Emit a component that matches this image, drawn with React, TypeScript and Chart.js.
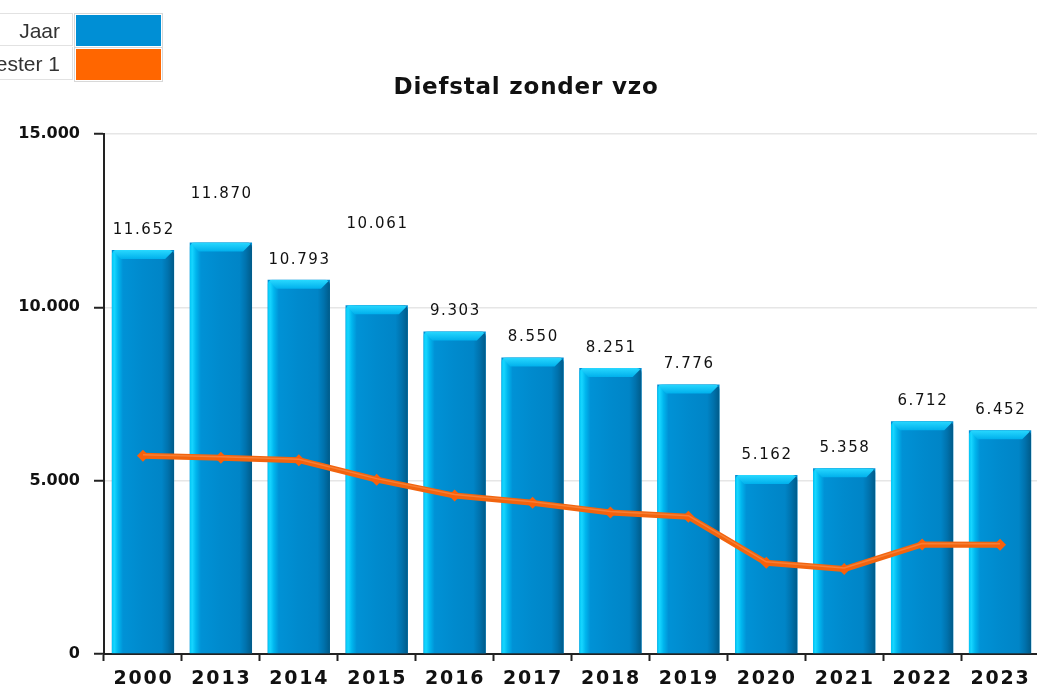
import React, { useEffect, useRef } from "react";
import { Chart, registerables } from "chart.js";

Chart.register(...registerables);

const categories = ["2000", "2013", "2014", "2015", "2016", "2017", "2018", "2019", "2020", "2021", "2022", "2023"];
const jaarValues = [11652, 11870, 10793, 10061, 9303, 8550, 8251, 7776, 5162, 5358, 6712, 6452];
const semesterValues = [5720, 5660, 5590, 5030, 4570, 4360, 4080, 3960, 2630, 2450, 3160, 3150];
const yTickValues = [0, 5000, 10000, 15000];
const seriesNames = ["Jaar", "Semester 1"];
const chartTitle = "Diefstal zonder vzo";

const BLUE = "#008fd5";
const ORANGE = "#ff6600";

const fmt = (v: number) => String(Math.round(v)).replace(/\B(?=(\d{3})+(?!\d))/g, ".");

const barStylePlugin = {
  id: "barStyle",
  afterDatasetDraw(chart: any, args: any) {
    if (args.index !== 0) return;
    const meta = chart.getDatasetMeta(0);
    const ctx = chart.ctx as CanvasRenderingContext2D;
    meta.data.forEach((bar: any) => {
      const { x, y, base, width } = bar.getProps(["x", "y", "base", "width"], true);
      const l = x - width / 2;
      const r = x + width / 2;
      const t = y;
      const b = base;
      ctx.save();
      ctx.beginPath();
      (ctx as any).roundRect(l, t, r - l, b - t, [5, 5, 0, 0]);
      ctx.clip();
      const g = ctx.createLinearGradient(l, 0, r, 0);
      g.addColorStop(0, "#00c4f4");
      g.addColorStop(0.04, "#16d6ff");
      g.addColorStop(0.1, "#00b6ee");
      g.addColorStop(0.18, "#0092d6");
      g.addColorStop(0.5, "#008acd");
      g.addColorStop(0.8, "#0085c7");
      g.addColorStop(0.9, "#0072ad");
      g.addColorStop(1, "#005a88");
      ctx.fillStyle = g;
      ctx.fillRect(l, t, r - l, b - t);
      const d = 9;
      const gt = ctx.createLinearGradient(0, t, 0, t + d);
      gt.addColorStop(0, "#28d8ff");
      gt.addColorStop(1, "#00b0ec");
      ctx.beginPath();
      ctx.moveTo(l, t);
      ctx.lineTo(r, t);
      ctx.lineTo(r - d, t + d);
      ctx.lineTo(l + d, t + d);
      ctx.closePath();
      ctx.fillStyle = gt;
      ctx.fill();
      ctx.restore();
    });
  },
};

const lineHighlightPlugin = {
  id: "lineHighlight",
  afterDatasetDraw(chart: any, args: any) {
    if (args.index !== 1) return;
    const meta = chart.getDatasetMeta(1);
    const ctx = chart.ctx as CanvasRenderingContext2D;
    ctx.save();
    ctx.beginPath();
    meta.data.forEach((p: any, i: number) => {
      if (i === 0) ctx.moveTo(p.x, p.y - 1);
      else ctx.lineTo(p.x, p.y - 1);
    });
    ctx.strokeStyle = "rgba(255,160,100,0.45)";
    ctx.lineWidth = 1.5;
    ctx.lineJoin = "round";
    ctx.stroke();
    ctx.restore();
  },
};

const labelsPlugin = {
  id: "valueLabels",
  afterDatasetsDraw(chart: any) {
    const ctx = chart.ctx as CanvasRenderingContext2D;
    const meta = chart.getDatasetMeta(0);
    ctx.save();
    ctx.font = "15px 'DejaVu Sans'";
    (ctx as any).letterSpacing = "1.6px";
    ctx.fillStyle = "#111";
    ctx.textAlign = "center";
    ctx.textBaseline = "middle";
    const placed: { x: number; y: number; w: number }[] = [];
    const h = 36;
    meta.data.forEach((bar: any, i: number) => {
      const text = fmt(jaarValues[i]);
      const w = ctx.measureText(text).width + 18;
      let y = bar.y - 20;
      let moved = true;
      while (moved) {
        moved = false;
        for (const p of placed) {
          if (Math.abs(p.x - bar.x) < (p.w + w) / 2 && Math.abs(p.y - y) < h) {
            y = p.y - h;
            moved = true;
          }
        }
      }
      placed.push({ x: bar.x, y, w });
      ctx.fillText(text, bar.x + 0.8, y);
    });
    ctx.restore();

    // x-axis category labels
    const xs = chart.scales.x;
    ctx.save();
    ctx.font = "bold 19px 'DejaVu Sans'";
    (ctx as any).letterSpacing = "1.8px";
    ctx.fillStyle = "#111";
    ctx.textAlign = "center";
    ctx.textBaseline = "middle";
    categories.forEach((c, i) => {
      ctx.fillText(c, xs.getPixelForValue(i) + 0.5, chart.chartArea.bottom + 25);
    });
    ctx.restore();

    // title
    const tb = chart.titleBlock;
    ctx.save();
    ctx.font = "bold 23px 'DejaVu Sans'";
    (ctx as any).letterSpacing = "0.8px";
    ctx.fillStyle = "#111";
    ctx.textAlign = "center";
    ctx.textBaseline = "middle";
    ctx.fillText(chartTitle, 526, 88);
    ctx.restore();
  },
};

function ChartView() {
  const ref = useRef<HTMLCanvasElement | null>(null);
  useEffect(() => {
    if (!ref.current) return;
    const chart = new Chart(ref.current, {
      type: "bar",
      data: {
        labels: categories,
        datasets: [
          {
            type: "bar",
            label: seriesNames[0],
            data: jaarValues,
            backgroundColor: BLUE,
            categoryPercentage: 0.8,
            barPercentage: 1,
            order: 1,
          },
          {
            type: "line",
            label: seriesNames[1],
            data: semesterValues,
            borderColor: "#f2640e",
            backgroundColor: ORANGE,
            borderWidth: 6,
            pointStyle: "rectRot",
            pointRadius: 6,
            pointBackgroundColor: "#f8600a",
            pointBorderWidth: 0,
            borderJoinStyle: "round",
            tension: 0,
            order: 0,
          },
        ],
      } as any,
      options: {
        animation: false,
        responsive: false,
        maintainAspectRatio: false,
        layout: { padding: { left: 0, right: 5, top: 0, bottom: 0 } },
        plugins: {
          legend: { display: false },
          tooltip: { enabled: false },
          title: {
            display: true,
            text: chartTitle,
            color: "rgba(0,0,0,0)",
            font: { family: "'DejaVu Sans'", size: 20, weight: "bold" },
            padding: { top: 76, bottom: 34 },
          },
        },
        scales: {
          x: {
            offset: true,
            grid: {
              display: true,
              offset: true,
              drawOnChartArea: false,
              drawTicks: true,
              tickLength: 7,
              tickColor: "#222",
              tickWidth: 2,
            },
            border: { display: true, color: "#222", width: 2 },
            ticks: { color: "rgba(0,0,0,0)", autoSkip: false, maxRotation: 0 },
            afterFit: (s: any) => {
              s.height = 35;
            },
          },
          y: {
            min: 0,
            max: 15000,
            afterBuildTicks: (s: any) => {
              s.ticks = yTickValues.map((v) => ({ value: v }));
            },
            grid: {
              color: "#e6e6e6",
              lineWidth: 1.5,
              tickLength: 10,
              tickColor: "#222",
              tickWidth: 2,
            },
            border: { display: true, color: "#222", width: 2 },
            ticks: {
              color: "#111",
              padding: 14,
              font: { family: "'DejaVu Sans'", size: 16, weight: "bold" },
              callback: (v: any) => fmt(Number(v)),
            },
            afterFit: (s: any) => {
              s.width = 104;
            },
          },
        },
      } as any,
      plugins: [barStylePlugin, lineHighlightPlugin, labelsPlugin],
    });
    return () => chart.destroy();
  }, []);
  return <canvas ref={ref} width={1045} height={689} style={{ display: "block" }} />;
}

export default function App() {
  const swatches = [BLUE, ORANGE];
  return (
    <div style={{ position: "absolute", left: 0, top: 0, width: 1037, height: 689, overflow: "hidden", background: "#fff" }}>
      <ChartView />
      {seriesNames.map((n, i) => (
        <React.Fragment key={n}>
          <div
            style={{
              position: "absolute",
              left: -70,
              top: 13 + i * 34,
              width: 143,
              height: 33,
              border: "1px solid #e2e2e2",
              borderTop: i === 0 ? "1px solid #e2e2e2" : "none",
              boxSizing: "border-box",
              textAlign: "right",
              paddingRight: 12,
              fontFamily: "'Liberation Sans', Arial, sans-serif",
              fontSize: 21,
              color: "#333",
              lineHeight: "33px",
            }}
          >
            {n}
          </div>
          <div
            style={{
              position: "absolute",
              left: 74,
              top: 13 + i * 34,
              width: 89,
              height: 35,
              border: "1px solid #d8d8d8",
              boxSizing: "border-box",
              background: swatches[i],
              boxShadow: "inset 0 0 0 1px #fff",
            }}
          />
        </React.Fragment>
      ))}
    </div>
  );
}
